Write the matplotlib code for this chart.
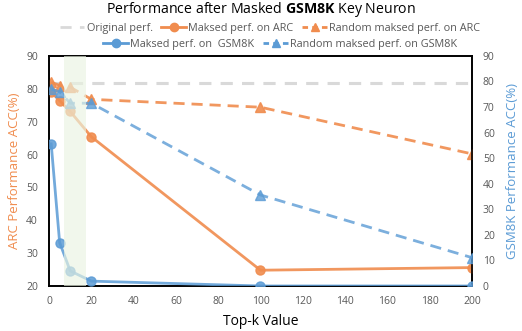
import matplotlib
matplotlib.use("Agg")
import matplotlib.pyplot as plt
from matplotlib.lines import Line2D

plt.rcParams['font.family'] = ['Open Sans', 'DejaVu Sans']
plt.rcParams['mathtext.fontset'] = 'custom'
plt.rcParams['mathtext.rm'] = 'Open Sans'
plt.rcParams['mathtext.bf'] = 'Open Sans:bold'

topk = [1, 5, 10, 20, 100, 200]
original_perf = 81.9
masked_arc = [79.0, 76.4, 73.1, 65.4, 24.8, 25.6]
random_arc = [82.0, 81.0, 80.5, 76.8, 74.4, 60.2]
masked_gsm = [55.6, 17.0, 5.9, 1.9, 0.0, 0.0]
random_gsm = [77.0, 76.0, 71.5, 71.5, 35.6, 11.1]

xticks = list(range(0, 201, 20))
left_ticks = list(range(20, 91, 10))
right_ticks = list(range(0, 91, 10))

orange = '#F08C4E'
blue = '#5B9BD5'
gray = '#D9D9D9'
tick_color = '#595959'

fig = plt.figure(figsize=(5.22, 3.31), dpi=100)
ax = fig.add_axes([0.094, 0.136, 0.810, 0.695])
ax2 = ax.twinx()

ax.axhline(original_perf, color=gray, lw=2.2, ls=(0, (4, 3)), zorder=1)
ax.plot(topk, masked_arc, color=orange, lw=2, marker='o', ms=6.5, alpha=0.9, zorder=3)
ax.plot(topk, random_arc, color=orange, lw=2, ls=(0, (4, 2.5)), marker='^', ms=6.5, alpha=0.9, zorder=3)
ax2.plot(topk, masked_gsm, color=blue, lw=2, marker='o', ms=6.5, alpha=0.85, zorder=3)
ax2.plot(topk, random_gsm, color=blue, lw=2, ls=(0, (4, 2.5)), marker='^', ms=6.5, alpha=0.8, zorder=3)

ax2.axvspan(7, 17.3, color='#EAF4E2', alpha=0.65, zorder=5, lw=0)

ax.set_xlim(0, 200)
ax.set_ylim(20, 90)
ax2.set_ylim(0, 90)
ax.set_xticks(xticks)
ax.set_yticks(left_ticks)
ax2.set_yticks(right_ticks)
for a in (ax, ax2):
    a.tick_params(length=0, labelsize=7.5, labelcolor=tick_color)
    for s in a.spines.values():
        s.set_color('black')
        s.set_linewidth(1.2)
ax.tick_params(axis='y', pad=8)
ax.tick_params(axis='x', pad=7)
ax2.tick_params(axis='y', pad=8)

ax.set_ylabel('ARC Performance ACC(%)', color=orange, fontsize=9.5, labelpad=4)
ax2.set_ylabel('GSM8K Performance ACC(%)', color=blue, fontsize=9.5, labelpad=8)
ax.set_xlabel('Top-k Value', fontsize=10, labelpad=5)

fig.text(0.5, 0.972, r'Performance after Masked $\mathbf{GSM8K}$ Key Neuron',
         ha='center', va='center', fontsize=10.2)

h1 = [Line2D([], [], color=gray, lw=2, ls=(0, (4, 3))),
      Line2D([], [], color=orange, lw=2, marker='o', ms=6),
      Line2D([], [], color=orange, lw=2, ls=(0, (2, 1.5)), marker='^', ms=6)]
l1 = ['Original perf.', 'Maksed perf. on ARC', 'Random maksed perf. on ARC']
h2 = [Line2D([], [], color=blue, lw=2, marker='o', ms=6),
      Line2D([], [], color=blue, lw=2, ls=(0, (2, 1.5)), marker='^', ms=6)]
l2 = ['Maksed perf. on  GSM8K', 'Random maksed perf. on GSM8K']
kw = dict(frameon=False, fontsize=7.8, handlelength=2.3, handletextpad=0.2,
          columnspacing=0.8, labelcolor=tick_color, borderpad=0, borderaxespad=0)
leg1 = fig.legend(h1, l1, ncol=3, loc='center', bbox_to_anchor=(0.517, 0.915), **kw)
leg2 = fig.legend(h2, l2, ncol=2, loc='center', bbox_to_anchor=(0.537, 0.866), **kw)

fig.savefig('out.png', dpi=100)
